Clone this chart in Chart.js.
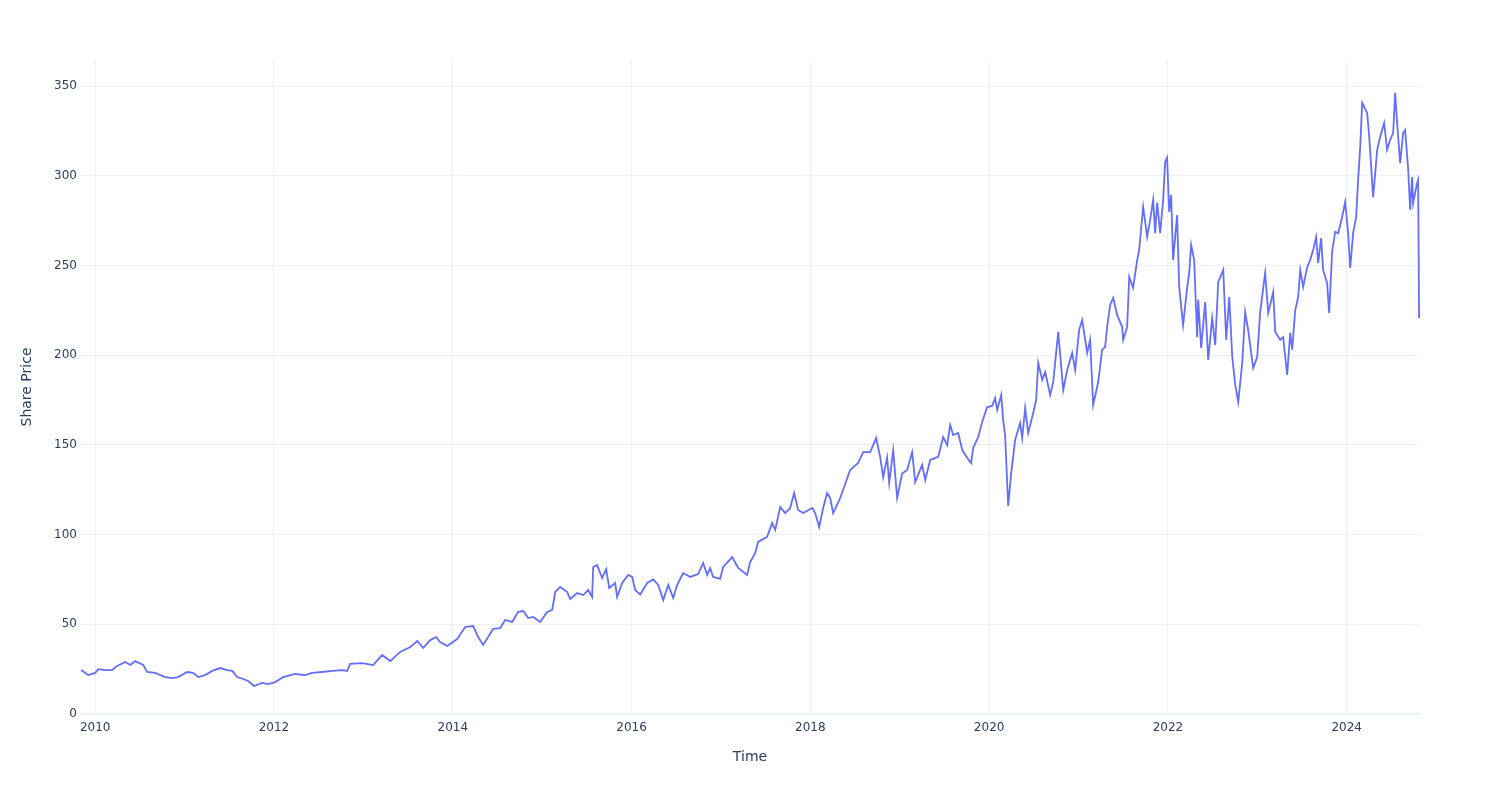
<!DOCTYPE html>
<html>
<head>
<meta charset="utf-8">
<script src="https://cdn.jsdelivr.net/npm/chart.js@4.4.1/dist/chart.umd.min.js"></script>
<style>
  html, body { margin: 0; padding: 0; background: #fff; }
  #wrap { width: 1500px; height: 800px; }
</style>
</head>
<body>
<div id="wrap"><canvas id="price-chart" width="1500" height="800"></canvas></div>
<script>
// time as decimal years
const years = [
  2009.843, 2009.922, 2010.000, 2010.034, 2010.112, 2010.190, 2010.246, 2010.336, 2010.392, 2010.447,
  2010.537, 2010.582, 2010.671, 2010.783, 2010.861, 2010.928, 2011.029, 2011.096, 2011.152, 2011.230,
  2011.309, 2011.398, 2011.477, 2011.533, 2011.588, 2011.656, 2011.711, 2011.779, 2011.868, 2011.935,
  2012.013, 2012.103, 2012.237, 2012.349, 2012.427, 2012.539, 2012.651, 2012.763, 2012.819, 2012.852,
  2012.987, 2013.110, 2013.210, 2013.300, 2013.412, 2013.524, 2013.602, 2013.669, 2013.747, 2013.814,
  2013.859, 2013.938, 2014.049, 2014.139, 2014.228, 2014.284, 2014.340, 2014.452, 2014.530, 2014.586,
  2014.665, 2014.732, 2014.788, 2014.844, 2014.900, 2014.978, 2015.056, 2015.112, 2015.146, 2015.202,
  2015.280, 2015.313, 2015.392, 2015.459, 2015.515, 2015.559, 2015.571, 2015.615, 2015.671, 2015.716,
  2015.750, 2015.817, 2015.839, 2015.895, 2015.962, 2016.007, 2016.040, 2016.096, 2016.175, 2016.242,
  2016.298, 2016.354, 2016.410, 2016.466, 2016.510, 2016.578, 2016.656, 2016.745, 2016.801, 2016.846,
  2016.879, 2016.913, 2016.991, 2017.025, 2017.125, 2017.193, 2017.293, 2017.327, 2017.383, 2017.416,
  2017.517, 2017.573, 2017.607, 2017.663, 2017.718, 2017.774, 2017.819, 2017.864, 2017.920, 2018.021,
  2018.054, 2018.099, 2018.143, 2018.188, 2018.222, 2018.255, 2018.334, 2018.378, 2018.445, 2018.535,
  2018.591, 2018.669, 2018.736, 2018.781, 2018.815, 2018.859, 2018.882, 2018.927, 2018.971, 2019.027,
  2019.083, 2019.139, 2019.173, 2019.251, 2019.285, 2019.341, 2019.430, 2019.486, 2019.531, 2019.564,
  2019.598, 2019.654, 2019.699, 2019.755, 2019.799, 2019.822, 2019.878, 2019.922, 2019.978, 2020.034,
  2020.067, 2020.090, 2020.135, 2020.157, 2020.179, 2020.213, 2020.247, 2020.291, 2020.325, 2020.347,
  2020.370, 2020.403, 2020.437, 2020.493, 2020.526, 2020.549, 2020.594, 2020.627, 2020.683, 2020.717,
  2020.773, 2020.829, 2020.873, 2020.929, 2020.963, 2021.007, 2021.041, 2021.097, 2021.130, 2021.164,
  2021.220, 2021.264, 2021.298, 2021.320, 2021.354, 2021.388, 2021.432, 2021.488, 2021.500, 2021.544,
  2021.567, 2021.611, 2021.656, 2021.678, 2021.723, 2021.768, 2021.801, 2021.835, 2021.857, 2021.880,
  2021.913, 2021.947, 2021.969, 2021.991, 2022.014, 2022.036, 2022.058, 2022.103, 2022.126, 2022.170,
  2022.215, 2022.238, 2022.260, 2022.294, 2022.327, 2022.339, 2022.372, 2022.417, 2022.451, 2022.495,
  2022.529, 2022.563, 2022.619, 2022.652, 2022.686, 2022.720, 2022.753, 2022.787, 2022.832, 2022.864,
  2022.898, 2022.954, 2022.999, 2023.032, 2023.088, 2023.122, 2023.178, 2023.200, 2023.256, 2023.289,
  2023.334, 2023.368, 2023.390, 2023.424, 2023.457, 2023.480, 2023.513, 2023.558, 2023.591, 2023.625,
  2023.658, 2023.681, 2023.714, 2023.736, 2023.781, 2023.804, 2023.837, 2023.871, 2023.905, 2023.949,
  2023.983, 2024.016, 2024.039, 2024.072, 2024.106, 2024.128, 2024.151, 2024.173, 2024.229, 2024.252,
  2024.296, 2024.341, 2024.374, 2024.419, 2024.452, 2024.486, 2024.520, 2024.542, 2024.564, 2024.598,
  2024.632, 2024.654, 2024.688, 2024.710, 2024.732, 2024.743, 2024.788, 2024.799, 2024.810
];

const prices = [
  24.5, 21.7, 22.9, 25.0, 24.5, 24.5, 26.8, 29.0, 27.3, 29.5,
  27.3, 23.4, 22.9, 20.6, 20.0, 20.6, 23.4, 22.9, 20.6, 21.7,
  24.0, 25.6, 24.5, 24.0, 20.6, 19.5, 18.4, 15.6, 17.3, 16.7,
  17.8, 20.6, 22.3, 21.7, 22.9, 23.4, 24.0, 24.5, 24.0, 27.9,
  28.4, 27.3, 32.9, 29.5, 34.6, 37.3, 40.7, 36.8, 41.2, 42.9,
  40.1, 37.9, 41.8, 48.5, 49.0, 42.9, 38.5, 47.4, 47.9, 52.4,
  51.3, 56.9, 57.4, 53.5, 54.1, 51.3, 56.9, 58.0, 68.0, 70.8,
  68.0, 64.1, 67.4, 66.3, 69.1, 65.2, 81.9, 83.0, 75.8, 80.8,
  70.2, 73.0, 65.2, 73.0, 77.5, 76.4, 69.1, 66.6, 73.0, 75.0,
  71.9, 63.5, 71.9, 64.7, 71.9, 78.6, 76.4, 78.0, 84.2, 77.5,
  81.4, 76.4, 75.3, 81.9, 87.5, 81.4, 77.5, 84.7, 89.7, 95.9,
  98.7, 106.5, 102.6, 115.4, 112.0, 114.8, 123.2, 113.7, 112.0, 114.8,
  112.0, 104.2, 114.8, 123.2, 120.4, 112.0, 120.4, 126.5, 136.0, 139.9,
  146.0, 146.0, 153.8, 143.3, 132.0, 143.0, 128.8, 147.0, 120.4, 134.0,
  136.0, 146.0, 129.3, 138.8, 130.4, 141.6, 143.3, 154.4, 149.9, 161.1,
  155.5, 156.6, 147.2, 142.7, 139.9, 148.3, 154.4, 162.8, 171.1, 171.7,
  176.1, 169.5, 177.8, 163.9, 155.5, 116.0, 134.3, 152.7, 158.5, 162.2,
  153.8, 170.6, 156.6, 167.8, 175.0, 195.7, 186.2, 190.6, 177.8, 185.0,
  213.0, 180.6, 191.7, 201.2, 191.7, 214.0, 219.6, 201.2, 208.5, 172.2,
  185.0, 202.9, 204.6, 215.7, 228.0, 231.9, 222.4, 215.7, 208.5, 215.7,
  243.6, 237.5, 253.0, 258.6, 282.6, 265.9, 275.4, 286.5, 268.0, 285.0,
  268.0, 286.5, 307.7, 310.0, 279.8, 289.3, 253.0, 278.0, 238.0, 216.8,
  237.5, 245.8, 261.4, 253.0, 210.0, 230.8, 204.0, 229.6, 197.3, 220.7,
  205.7, 240.8, 247.5, 208.5, 232.4, 199.0, 183.4, 173.9, 196.2, 224.0,
  214.0, 192.9, 199.0, 224.0, 245.8, 223.5, 235.2, 213.0, 208.5, 210.0,
  189.0, 212.4, 203.0, 225.0, 232.4, 247.5, 238.0, 249.0, 253.0, 258.6,
  265.9, 251.4, 265.3, 247.5, 240.2, 223.5, 257.5, 268.7, 268.0, 277.0,
  285.4, 268.0, 248.6, 268.0, 277.0, 297.7, 316.0, 340.6, 335.0, 321.6,
  288.0, 314.4, 321.6, 329.4, 314.4, 320.0, 323.9, 346.2, 329.4, 307.0,
  323.9, 325.5, 303.2, 281.0, 299.3, 284.8, 296.0, 297.7, 220.7
];

const xTicks = [2010, 2012, 2014, 2016, 2018, 2020, 2022, 2024];
const yTicks = [0, 50, 100, 150, 200, 250, 300, 350];

const xRange = [2009.83, 2024.82];
const yRange = [0, 364.5];

const gridColor = '#ebf0f8';
const textColor = '#2a3f5f';
const fontFamily = '"DejaVu Sans", Verdana, sans-serif';

const points = years.map((t, i) => ({ x: t, y: prices[i] }));

new Chart(document.getElementById('price-chart'), {
  type: 'line',
  data: {
    datasets: [{
      label: 'Share Price',
      data: points,
      borderColor: '#636efa',
      borderWidth: 1.8,
      pointRadius: 0,
      tension: 0,
      fill: false
    }]
  },
  options: {
    responsive: false,
    animation: false,
    layout: { padding: { top: 60, right: 80, bottom: 0, left: 0 } },
    plugins: {
      legend: { display: false },
      tooltip: { enabled: false }
    },
    scales: {
      x: {
        type: 'linear',
        min: xRange[0],
        max: xRange[1],
        afterBuildTicks: s => { s.ticks = xTicks.map(v => ({ value: v })); },
        afterFit: s => { s.height = 86; },
        grid: { color: gridColor, lineWidth: 1, drawTicks: false },
        border: { display: false },
        ticks: {
          color: textColor,
          font: { family: fontFamily, size: 12 },
          padding: 7,
          maxRotation: 0,
          callback: v => String(v)
        },
        title: {
          display: true,
          text: 'Time',
          color: textColor,
          font: { family: fontFamily, size: 14 },
          padding: { top: 0, bottom: 34 }
        }
      },
      y: {
        min: yRange[0],
        max: yRange[1],
        afterBuildTicks: s => { s.ticks = yTicks.map(v => ({ value: v })); },
        afterFit: s => { s.width = 80; },
        grid: {
          color: gridColor,
          lineWidth: ctx => (ctx.tick && ctx.tick.value === 0 ? 2 : 1),
          drawTicks: false
        },
        border: { display: false },
        ticks: {
          color: textColor,
          font: { family: fontFamily, size: 12 },
          padding: 3
        },
        title: {
          display: true,
          text: 'Share Price',
          color: textColor,
          font: { family: fontFamily, size: 14 },
          padding: { top: 19, bottom: 0 }
        }
      }
    }
  }
});
</script>
</body>
</html>
